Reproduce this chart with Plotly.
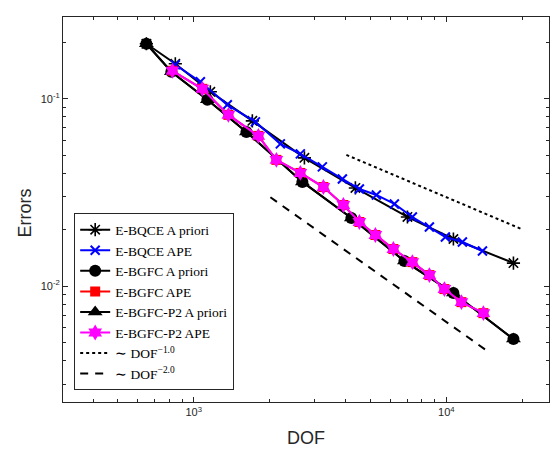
import plotly.graph_objects as go

# E-BQCE A priori
dof_bqce_prior = [650, 846, 1164, 1707, 2743, 4364, 7012, 10660, 18420]
err_bqce_prior = [0.1968, 0.1539, 0.109, 0.0763, 0.0484, 0.03342, 0.02339, 0.01784, 0.01327]

# E-BQCE APE
dof_bqce_ape = [846, 1063, 1359, 1755, 2203, 2643, 3230, 3877, 4526, 5284, 6226, 7335, 8565, 9909, 11570, 13890]
err_bqce_ape = [0.152, 0.1233, 0.0929, 0.0753, 0.0575, 0.0508, 0.0433, 0.03734, 0.033, 0.03066, 0.02745,
                0.02339, 0.02067, 0.01828, 0.0172, 0.01539]

# E-BGFC A priori / E-BGFC-P2 A priori
dof_bgfc_prior = [650, 816, 1133, 1617, 2693, 4207, 6822, 10660, 18420]
err_bgfc_prior = [0.1968, 0.1395, 0.0988, 0.0666, 0.036, 0.02311, 0.0136, 0.00918, 0.00521]

# E-BGFC APE / E-BGFC-P2 APE
dof_bgfc_ape = [824, 1082, 1372, 1803, 2125, 2643, 3261, 3912, 4526, 5236, 6169, 7335, 8565, 9820, 11470, 14010]
err_bgfc_ape = [0.1412, 0.1131, 0.0821, 0.0634, 0.0472, 0.0402, 0.0338, 0.02711, 0.02199, 0.01874, 0.01577,
                0.01343, 0.01145, 0.00964, 0.00821, 0.00717]

# reference slopes
ref1_dof = [4021, 19930]
ref1_err = [0.0502, 0.0201]
ref2_dof = [2012, 14490]
ref2_err = [0.0298, 0.00451]

fig = go.Figure()
LW = 2
fig.add_trace(go.Scatter(x=dof_bqce_prior, y=err_bqce_prior, mode="lines+markers", name="E-BQCE A priori",
                         line=dict(color="black", width=LW),
                         marker=dict(symbol="asterisk-open", size=11, color="black", line=dict(width=1.6, color="black"))))
fig.add_trace(go.Scatter(x=dof_bqce_ape, y=err_bqce_ape, mode="lines+markers", name="E-BQCE APE",
                         line=dict(color="#0000FF", width=LW),
                         marker=dict(symbol="x-thin-open", size=9, color="#0000FF", line=dict(width=2, color="#0000FF"))))
fig.add_trace(go.Scatter(x=dof_bgfc_prior, y=err_bgfc_prior, mode="lines+markers", name="E-BGFC A priori",
                         line=dict(color="black", width=LW),
                         marker=dict(symbol="circle", size=12, color="black")))
fig.add_trace(go.Scatter(x=dof_bgfc_ape, y=err_bgfc_ape, mode="lines+markers", name="E-BGFC APE",
                         line=dict(color="#FF0000", width=LW),
                         marker=dict(symbol="square", size=10, color="#FF0000")))
fig.add_trace(go.Scatter(x=dof_bgfc_prior, y=err_bgfc_prior, mode="lines+markers", name="E-BGFC-P2 A priori",
                         line=dict(color="black", width=LW),
                         marker=dict(symbol="triangle-up", size=13, color="black")))
fig.add_trace(go.Scatter(x=dof_bgfc_ape, y=err_bgfc_ape, mode="lines+markers", name="E-BGFC-P2 APE",
                         line=dict(color="#FF00FF", width=LW),
                         marker=dict(symbol="hexagram", size=12, color="#FF00FF")))
fig.add_trace(go.Scatter(x=ref1_dof, y=ref1_err, mode="lines", name="∼ DOF<sup>−1.0</sup>",
                         line=dict(color="black", width=LW, dash="dot")))
fig.add_trace(go.Scatter(x=ref2_dof, y=ref2_err, mode="lines", name="∼ DOF<sup>−2.0</sup>",
                         line=dict(color="black", width=LW, dash="8px,7px")))

axcol = "#262626"
xminor = [m * 10 ** e for e in (2, 3, 4) for m in range(2, 10)]
yminor = [m * 10 ** e for e in (-3, -2, -1) for m in range(2, 10)]

common = dict(ticks="inside", ticklen=5, tickwidth=1, tickcolor=axcol,
              showline=True, linecolor=axcol, linewidth=1, mirror="ticks",
              showgrid=False, zeroline=False, automargin=False,
              tickfont=dict(family="Liberation Sans, Arial", size=11, color=axcol))

fig.update_xaxes(type="log", range=[2.483, 4.406],
                 tickvals=[1e3, 1e4], ticktext=["10<sup>3</sup>", "10<sup>4</sup>"],
                 minor=dict(tickvals=xminor, ticks="inside", ticklen=3, tickcolor=axcol, showgrid=False),
                 **common)
fig.update_yaxes(type="log", range=[-2.619, -0.563],
                 tickvals=[1e-2, 1e-1], ticktext=["10<sup>-2</sup>", "10<sup>-1</sup>"],
                 minor=dict(tickvals=yminor, ticks="inside", ticklen=3, tickcolor=axcol, showgrid=False),
                 **common)

fig.update_layout(
    width=552, height=449,
    margin=dict(l=63, r=3, t=17, b=47),
    plot_bgcolor="white", paper_bgcolor="white",
    showlegend=True,
    legend=dict(x=0.023, y=0.03, xanchor="left", yanchor="bottom",
                bgcolor="white", bordercolor=axcol, borderwidth=1,
                font=dict(family="Liberation Serif, Times New Roman", size=13.5, color="black"),
                tracegroupgap=0, itemwidth=30),
    annotations=[
        dict(text="DOF", xref="paper", yref="paper", x=0.5, y=-0.093, xanchor="center", yanchor="middle",
             showarrow=False, font=dict(family="Liberation Sans, Arial", size=18, color=axcol)),
        dict(text="Errors", xref="paper", yref="paper", x=-0.078, y=0.49, xanchor="center", yanchor="middle",
             textangle=-90, showarrow=False, font=dict(family="Liberation Sans, Arial", size=18, color=axcol)),
    ],
)

fig.write_html("out.html", config={"displayModeBar": False},
               post_script="document.body.style.margin='0px';document.body.style.overflow='hidden';")
